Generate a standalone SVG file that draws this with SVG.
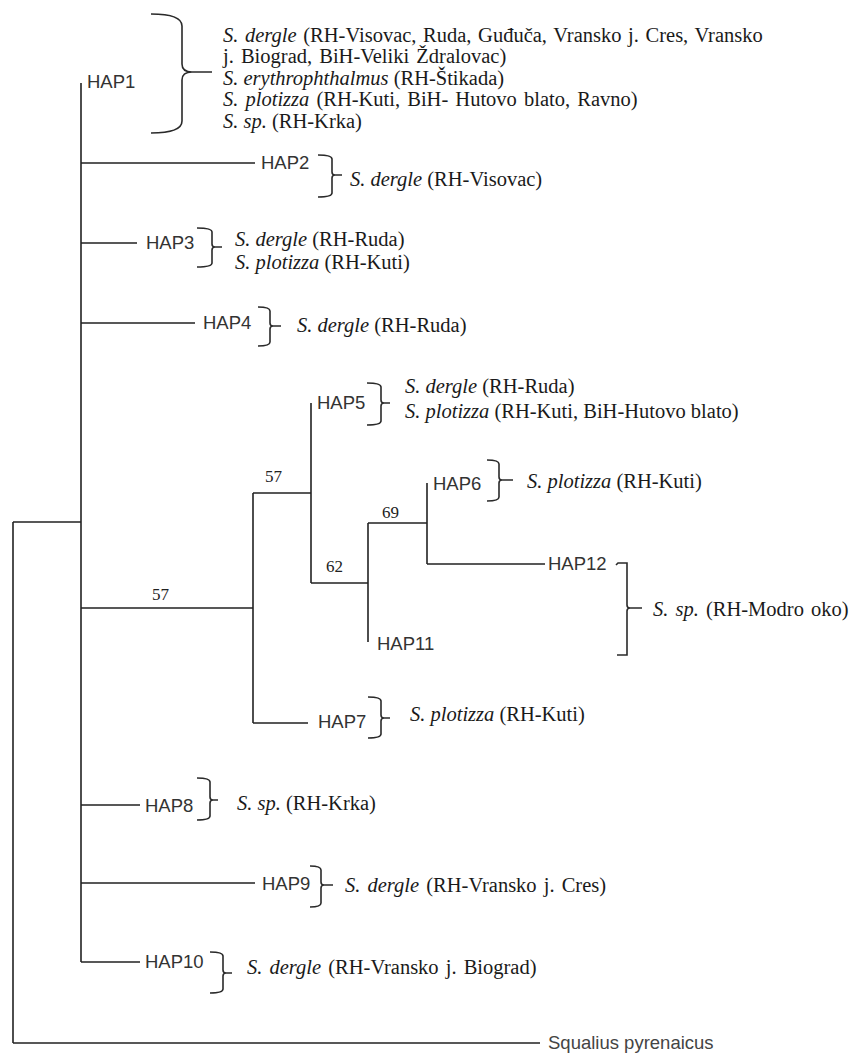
<svg xmlns="http://www.w3.org/2000/svg" width="853" height="1055" viewBox="0 0 853 1055">
<style>
.ln{stroke:#222;stroke-width:1.6;fill:none}
.br{stroke:#2a2a2a;stroke-width:1.6;fill:none}
.hap{font-family:"Liberation Sans",Arial,sans-serif;font-size:18.5px;fill:#333}
.sp{font-family:"Liberation Serif","Times New Roman",serif;font-size:20.5px;fill:#1a1a1a}
.it{font-style:italic}
.bs{font-family:"Liberation Serif","Times New Roman",serif;font-size:17px;fill:#222}
.og{font-family:"Liberation Sans",Arial,sans-serif;font-size:18.5px;fill:#444}
</style>
<rect width="853" height="1055" fill="#fff"/>
<g id="connectors">
<path class="ln" d="M13,522 V1043 M13,522 H81 M13,1043 H540 M81,83 V962 M81,163 H255 M81,243 H137 M81,323 H195 M81,608 H253 M253,493 V723 M253,493 H311 M311,403 V583 M253,723 H308 M311,583 H368 M368,523 V642 M368,523 H427 M427,483 V564 M427,564 H545 M81,805 H140 M81,883 H255 M81,962 H140"/>
</g>
<g id="support">
<text class="bs" x="152" y="600">57</text>
<text class="bs" x="265" y="482">57</text>
<text class="bs" x="326" y="572">62</text>
<text class="bs" x="382" y="518">69</text>
</g>
<g id="HAP1">
<text class="hap" x="87" y="88">HAP1</text>
<path class="br" d="M151,14 Q182,14 182,26 L182,64 Q182,72 192,72 L212,72 M192,72 Q182,72 182,80 L182,121 Q182,133 151,133"/>
<text class="sp" x="223" y="42" word-spacing="1.5"><tspan class="it">S. dergle</tspan> (RH-Visovac, Ruda, Guđuča, Vransko j. Cres, Vransko</text>
<text class="sp" x="223" y="63" word-spacing="2">j. Biograd, BiH-Veliki Ždralovac)</text>
<text class="sp" x="223" y="85"><tspan class="it">S. erythrophthalmus</tspan> (RH-Štikada)</text>
<text class="sp" x="223" y="106" word-spacing="2"><tspan class="it">S. plotizza</tspan> (RH-Kuti, BiH- Hutovo blato, Ravno)</text>
<text class="sp" x="223" y="128"><tspan class="it">S. sp.</tspan> (RH-Krka)</text>
</g>
<g id="HAP2">
<text class="hap" x="261" y="169">HAP2</text>
<path class="br" d="M318,155 Q332,155 332,159 L332,172 Q332,175 335,175 L342,175 M335,175 Q332,175 332,178 L332,193 Q332,197 318,197"/>
<text class="sp" x="350" y="186"><tspan class="it">S. dergle</tspan> (RH-Visovac)</text>
</g>
<g id="HAP3">
<text class="hap" x="146" y="249">HAP3</text>
<path class="br" d="M197,228 Q212,228 212,232 L212,244 Q212,247 215,247 L222,247 M215,247 Q212,247 212,250 L212,263 Q212,267 197,267"/>
<text class="sp" x="235" y="246"><tspan class="it">S. dergle</tspan> (RH-Ruda)</text>
<text class="sp" x="235" y="269"><tspan class="it">S. plotizza</tspan> (RH-Kuti)</text>
</g>
<g id="HAP4">
<text class="hap" x="203" y="329">HAP4</text>
<path class="br" d="M258,307 Q270,307 270,311 L270,323 Q270,326 273,326 L281,326 M273,326 Q270,326 270,329 L270,342 Q270,346 258,346"/>
<text class="sp" x="297" y="332"><tspan class="it">S. dergle</tspan> (RH-Ruda)</text>
</g>
<g id="HAP5">
<text class="hap" x="317" y="409">HAP5</text>
<path class="br" d="M367,383 Q381,383 381,387 L381,400 Q381,403 384,403 L390,403 M384,403 Q381,403 381,406 L381,421 Q381,425 367,425"/>
<text class="sp" x="405" y="393"><tspan class="it">S. dergle</tspan> (RH-Ruda)</text>
<text class="sp" x="405" y="418"><tspan class="it">S. plotizza</tspan> (RH-Kuti, BiH-Hutovo blato)</text>
</g>
<g id="HAP6">
<text class="hap" x="433" y="490">HAP6</text>
<path class="br" d="M487,460 Q499,460 499,464 L499,477 Q499,480 502,480 L513,480 M502,480 Q499,480 499,483 L499,497 Q499,501 487,501"/>
<text class="sp" x="527" y="488"><tspan class="it">S. plotizza</tspan> (RH-Kuti)</text>
</g>
<g id="HAP12">
<text class="hap" x="548" y="570">HAP12</text>
</g>
<g id="HAP11">
<text class="hap" x="377" y="650">HAP11</text>
</g>
<g id="HAP11-HAP12-species">
<path class="br" d="M616,565 L618,563 L627,563 L627,605 Q627,608 630,608 L642,608 M630,608 Q627,608 627,611 L627,655 L617,655"/>
<text class="sp" x="653" y="616" word-spacing="2"><tspan class="it">S. sp.</tspan> (RH-Modro oko)</text>
</g>
<g id="HAP7">
<text class="hap" x="318" y="728">HAP7</text>
<path class="br" d="M368,697 Q381,697 381,701 L381,715 Q381,718 384,718 L390,718 M384,718 Q381,718 381,721 L381,734 Q381,738 368,738"/>
<text class="sp" x="410" y="721"><tspan class="it">S. plotizza</tspan> (RH-Kuti)</text>
</g>
<g id="HAP8">
<text class="hap" x="145" y="812">HAP8</text>
<path class="br" d="M197,778 Q210,778 210,782 L210,797 Q210,800 213,800 L218,800 M213,800 Q210,800 210,803 L210,816 Q210,820 197,820"/>
<text class="sp" x="237" y="810"><tspan class="it">S. sp.</tspan> (RH-Krka)</text>
</g>
<g id="HAP9">
<text class="hap" x="262" y="890">HAP9</text>
<path class="br" d="M310,866 Q321,866 321,870 L321,882 Q321,885 324,885 L333,885 M324,885 Q321,885 321,888 L321,903 Q321,907 310,907"/>
<text class="sp" x="345" y="892" word-spacing="2"><tspan class="it">S. dergle</tspan> (RH-Vransko j. Cres)</text>
</g>
<g id="HAP10">
<text class="hap" x="145" y="968">HAP10</text>
<path class="br" d="M210,952 Q223,952 223,956 L223,970 Q223,973 226,973 L232,973 M226,973 Q223,973 223,976 L223,989 Q223,993 210,993"/>
<text class="sp" x="247" y="974" word-spacing="2"><tspan class="it">S. dergle</tspan> (RH-Vransko j. Biograd)</text>
</g>
<g id="outgroup">
<text class="og" x="548" y="1049">Squalius pyrenaicus</text>
</g>
</svg>
